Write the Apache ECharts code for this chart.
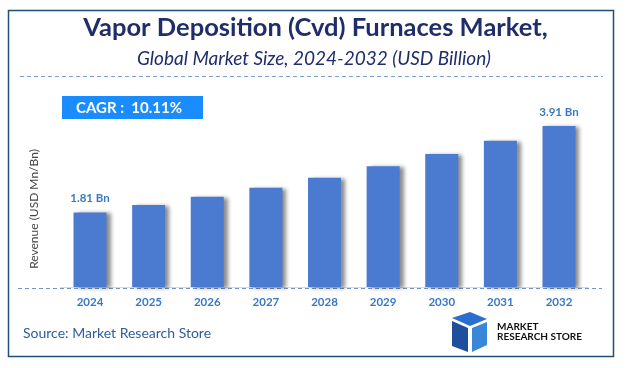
<!DOCTYPE html>
<html><head><meta charset="utf-8">
<script src="https://cdn.jsdelivr.net/npm/echarts@6/dist/echarts.min.js"></script>
<style>html,body{margin:0;padding:0;background:#fff}#c{width:628px;height:368px}</style>
</head><body><div id="c"></div>
<script>
const categories = ['2024','2025','2026','2027','2028','2029','2030','2031','2032'];
const values = [1.81, 1.99, 2.19, 2.41, 2.65, 2.93, 3.23, 3.55, 3.91];
const labelledIdx = [0, 8];
const titleText = 'Vapor Deposition (Cvd) Furnaces Market,';
const subtitleText = 'Global Market Size, 2024-2032 (USD Billion)';
const cagrText = 'CAGR :  10.11%';
const yAxisName = 'Revenue (USD Mn/Bn)';
const sourceText = 'Source: Market Research Store';

const chart = echarts.init(document.getElementById('c'), null, {renderer:'canvas'});
const F = 'Lato';
chart.setOption({
  animation:false,
  backgroundColor:'#fff',
  grid:{left:60.7, right:39.7, top:101.6, bottom:81},
  xAxis:{type:'category', data:categories,
    axisLine:{show:true, lineStyle:{color:'#d9d9d9', width:1}},
    axisTick:{show:false},
    axisLabel:{color:'#3a78c4', fontFamily:F, fontWeight:'bold', fontSize:11.5, margin:9}},
  yAxis:{type:'value', min:0, max:4.5, show:false},
  series:[{type:'bar', data:values.map((v,i)=>({value:v,
      label:{show:labelledIdx.includes(i)}})),
    barWidth:33,
    itemStyle:{color:'#4a7bd0', shadowColor:'rgba(0,0,0,0.45)', shadowBlur:4, shadowOffsetX:4, shadowOffsetY:1},
    label:{position:'top', distance:8, color:'#3a78c4', fontFamily:F, fontWeight:'bold', fontSize:11.5,
      formatter:p=>p.value.toFixed(2)+' Bn'}}],
  graphic:[
    {type:'rect', shape:{x:8.5,y:10.5,width:605,height:346}, style:{fill:'none', stroke:'#1f4e79', lineWidth:1.5}, z:-1},
    {type:'text', x:315.5, y:28, style:{text:titleText, fill:'#1f2d6b', font:'bold 25.5px '+F, textAlign:'center', textVerticalAlign:'middle'}},
    {type:'text', x:314, y:58.5, style:{text:subtitleText, fill:'#1f2d6b', font:'italic 19px '+F, textAlign:'center', textVerticalAlign:'middle'}},
    {type:'line', shape:{x1:20,y1:76.5,x2:603,y2:76.5}, style:{stroke:'#7f9fd0', lineWidth:1, lineDash:[4,3]}},
    {type:'line', shape:{x1:18,y1:288.5,x2:602,y2:288.5}, style:{stroke:'#6f94cf', lineWidth:1, lineDash:[4,3]}},
    {type:'rect', shape:{x:62,y:96,width:141,height:23}, style:{fill:'#1a8cff'}},
    {type:'text', x:129, y:108, style:{text:cagrText, fill:'#fff', font:'bold 15px '+F, textAlign:'center', textVerticalAlign:'middle'}},
    {type:'text', x:34, y:209, rotation:Math.PI/2, style:{text:yAxisName, fill:'#444', font:'12px '+F, textAlign:'center', textVerticalAlign:'middle'}},
    {type:'text', x:23, y:333, style:{text:sourceText, fill:'#2e5c9e', font:'14px '+F, textAlign:'left', textVerticalAlign:'middle'}},
    {type:'polygon', shape:{points:[[452,318],[470,312],[487,319],[470,326]]}, style:{fill:'#2a6fd0'}},
    {type:'polygon', shape:{points:[[452,321],[468,328],[468,352],[452,346]]}, style:{fill:'#1f4e9c'}},
    {type:'polygon', shape:{points:[[472,328],[487,322],[487,345],[472,352]]}, style:{fill:'#3a86d8'}},
    {type:'text', x:497, y:327, style:{text:'MARKET', fill:'#111', font:'bold 10px '+F, textVerticalAlign:'middle'}},
    {type:'text', x:497, y:336.5, style:{text:'RESEARCH STORE', fill:'#111', font:'bold 10px '+F, textVerticalAlign:'middle'}}
  ]
});
</script></body></html>
